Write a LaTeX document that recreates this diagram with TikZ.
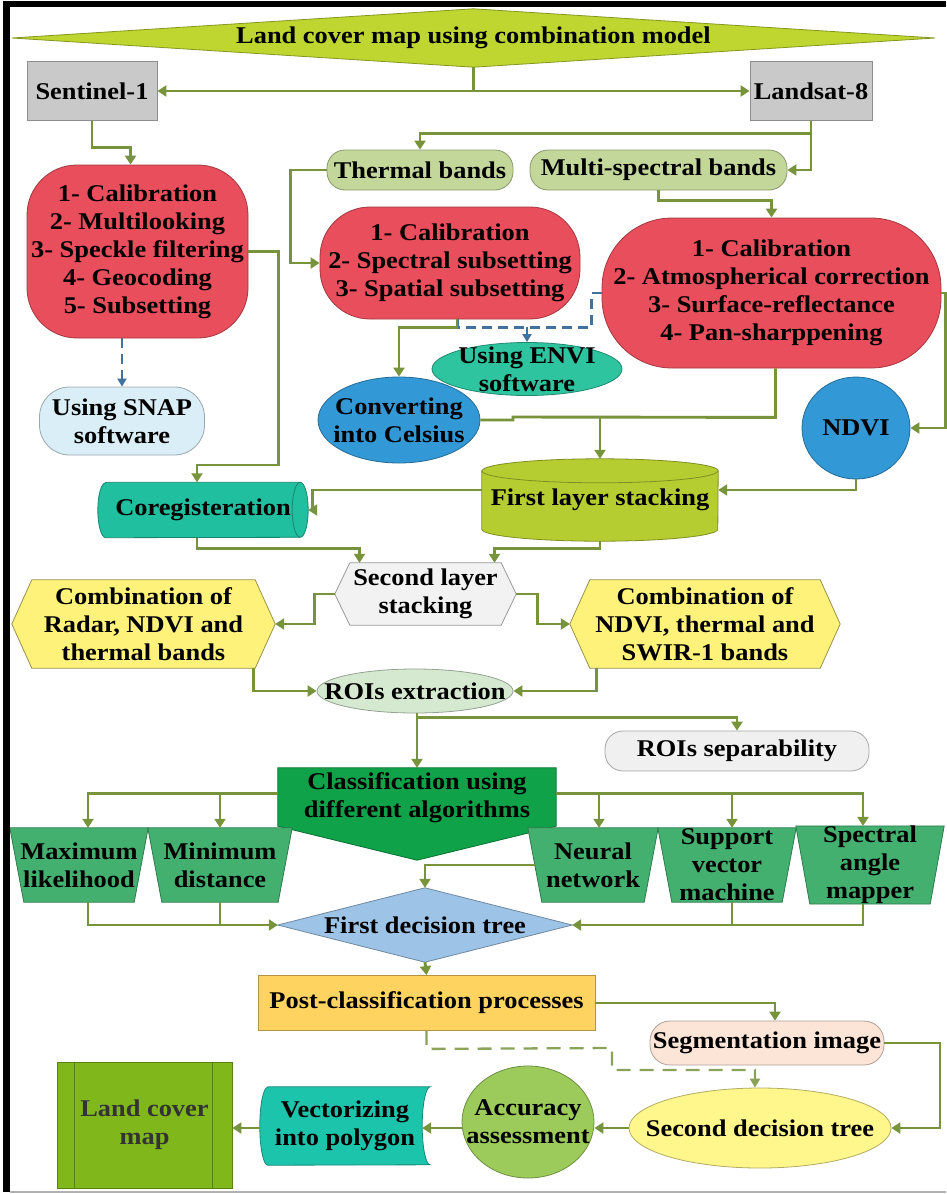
\documentclass[tikz,border=0pt]{standalone}
\usepackage{fontspec}
\setmainfont{Liberation Serif}[FakeStretch=1.1]
\usetikzlibrary{arrows.meta,calc,shapes.geometric}
\pgfdeclarelayer{bg}
\pgfsetlayers{bg,main}
\definecolor{arrg}{HTML}{77933C}
\definecolor{dblue}{HTML}{41719C}
\definecolor{gray1}{HTML}{C9C9C9}
\definecolor{red1}{HTML}{E94E5C}
\definecolor{olivel}{HTML}{C4D79B}
\definecolor{snapc}{HTML}{DAEEF8}
\definecolor{teal1}{HTML}{2EC4A0}
\definecolor{blue1}{HTML}{3399D6}
\definecolor{lime1}{HTML}{BED62F}
\definecolor{lime2}{HTML}{B5CD30}
\definecolor{teal2}{HTML}{1FBF9F}
\definecolor{grayl}{HTML}{F2F2F2}
\definecolor{yellow1}{HTML}{FFF27A}
\definecolor{roisc}{HTML}{D5E8D0}
\definecolor{sepc}{HTML}{F0F0F0}
\definecolor{green1}{HTML}{10A249}
\definecolor{green2}{HTML}{43B070}
\definecolor{fdtc}{HTML}{9DC3E6}
\definecolor{postc}{HTML}{FFD35F}
\definecolor{segc}{HTML}{FCE4D6}
\definecolor{sdtc}{HTML}{FFF68C}
\definecolor{accc}{HTML}{9CCB5C}
\definecolor{teal3}{HTML}{1DC4AC}
\definecolor{landc}{HTML}{80B71A}
\begin{document}
\begin{tikzpicture}[x=1pt,y=-1pt,
  txt/.style={font=\fontsize{24}{28}\selectfont\bfseries, align=center, inner sep=0pt, text=black},
  box/.style={txt, draw=#1!70!black, fill=#1, line width=0.8pt},
  ell/.style={box=#1, ellipse, inner sep=-40pt},
  lbl/.style={txt},
  shp/.style={fill=#1, draw=#1!70!black, line width=0.8pt},
  arr/.style={draw=arrg, line width=2.9pt, -{Triangle[length=9pt,width=11pt]}},
  ln/.style={draw=arrg, line width=2.9pt},
  dashln/.style={draw=dblue, line width=2.3pt, dash pattern=on 10pt off 6pt},
  dasharr/.style={dashln, -{Triangle[length=8pt,width=9pt]}},
  dashg/.style={draw=arrg!85!white, line width=2.3pt, dash pattern=on 14pt off 9pt, -{Triangle[length=9pt,width=10pt]}}
]
\useasboundingbox (0,0) rectangle (946,1194);
% frame
\draw[line width=7pt] (6.5,1) -- (6.5,1192);
\draw[line width=6pt] (3,4) -- (946,4);
\draw[gray!60, line width=2pt] (10,1192) -- (946,1192);

% nodes
\node[lbl, minimum width=923pt, minimum height=58pt] (top) at (473.5,38) {Land cover map using combination model};
\node[box=gray1, minimum width=130pt, minimum height=59pt] (sen) at (92,91) {Sentinel-1};
\node[box=gray1, minimum width=122pt, minimum height=59pt] (lan) at (811,91) {Landsat-8};
\node[box=red1, rounded corners=50pt, minimum width=221pt, minimum height=173pt] (r1) at (137.5,251.5) {1- Calibration\\2- Multilooking\\3- Speckle filtering\\4- Geocoding\\5- Subsetting};
\node[box=snapc, rounded corners=30pt, minimum width=165pt, minimum height=68pt] (snap) at (122,421) {Using SNAP\\software};
\node[box=olivel, rounded corners=18pt, minimum width=186pt, minimum height=40pt] (therm) at (420,170) {Thermal bands};
\node[box=olivel, rounded corners=18pt, minimum width=257pt, minimum height=40pt] (multi) at (658.5,170) {Multi-spectral bands};
\node[box=red1, rounded corners=50pt, minimum width=260pt, minimum height=112pt] (r2) at (450,263) {1- Calibration\\2- Spectral subsetting\\3- Spatial subsetting};
\node[box=red1, rounded corners=70pt, minimum width=339pt, minimum height=150pt] (r3) at (771.5,293) {1- Calibration\\2- Atmospherical correction\\3- Surface-reflectance\\4- Pan-sharppening};
\node[ell=teal1, minimum width=190pt, minimum height=53pt] (envi) at (527,369) {Using ENVI\\software};
\node[ell=blue1, minimum width=162pt, minimum height=86pt] (cel) at (399,420) {Converting\\into Celsius};
\node[ell=blue1, minimum width=108pt, minimum height=102pt] (ndvi) at (856,428) {NDVI};
\node[lbl, minimum width=236pt, minimum height=82pt] (stack) at (600,500) {First layer stacking};
\node[lbl, minimum width=210pt, minimum height=55pt] (coreg) at (203,510) {Coregisteration};
\node[lbl, minimum width=181pt, minimum height=62pt] (sec) at (425.5,594) {Second layer\\stacking};
\node[lbl, minimum width=263pt, minimum height=88pt] (hL) at (143.5,624) {Combination of\\Radar, NDVI and\\thermal bands};
\node[lbl, minimum width=270pt, minimum height=88pt] (hR) at (705,624) {Combination of\\NDVI, thermal and\\SWIR-1 bands};
\node[ell=roisc, minimum width=196pt, minimum height=44pt] (rois) at (415,691) {ROIs extraction};
\node[box=sepc, draw=gray!70, rounded corners=18pt, minimum width=264pt, minimum height=40pt] (sep) at (737,751) {ROIs separability};
\node[lbl, minimum width=278pt, minimum height=56pt] (cls) at (417,798) {Classification using\\different algorithms};
\node[lbl, minimum width=138pt, minimum height=74pt] (mx) at (79,865) {Maximum\\likelihood};
\node[lbl, minimum width=144pt, minimum height=74pt] (mn) at (220,865) {Minimum\\distance};
\node[lbl, minimum width=130pt, minimum height=74pt] (nn) at (593,865) {Neural\\network};
\node[lbl, minimum width=138pt, minimum height=74pt] (sv) at (727,865) {Support\\vector\\machine};
\node[lbl, minimum width=148pt, minimum height=74pt] (sp) at (870,865) {Spectral\\angle\\mapper};
\node[lbl, minimum width=294pt, minimum height=74pt] (fdt) at (425,925) {First decision tree};
\node[box=postc, minimum width=337pt, minimum height=55pt] (post) at (426.5,1003) {Post-classification processes};
\node[box=segc, rounded corners=20pt, minimum width=234pt, minimum height=44pt] (seg) at (767,1043) {Segmentation image};
\node[ell=sdtc, minimum width=262pt, minimum height=80pt] (sdt) at (760,1128) {Second decision tree};
\node[ell=accc, minimum width=132pt, minimum height=112pt] (acc) at (528,1122) {Accuracy\\assessment};
\node[lbl, minimum width=170pt, minimum height=78pt] (vec) at (345,1126) {Vectorizing\\into polygon};
\node[box=landc, text=black!80, minimum width=175pt, minimum height=126pt] (land) at (144.5,1125) {Land cover\\map};
\draw[landc!70!black, line width=0.8pt] ([xshift=18pt]land.north west) -- ([xshift=18pt]land.south west);
\draw[landc!70!black, line width=0.8pt] ([xshift=-20pt]land.north east) -- ([xshift=-20pt]land.south east);

% custom shapes behind the texts
\begin{pgfonlayer}{bg}
\path[shp=lime1] (top.west) -- (top.north) -- (top.east) -- (top.south) -- cycle;
\path[shp=lime2] ([yshift=-12pt]stack.north west) -- ([yshift=12pt]stack.south west)
  arc[start angle=180,end angle=360,x radius=118pt,y radius=12pt]
  -- ([yshift=-12pt]stack.north east)
  arc[start angle=0,end angle=180,x radius=118pt,y radius=12pt] -- cycle;
\draw[lime2!70!black, line width=0.8pt] ([yshift=-12pt]stack.north west) arc[start angle=180,end angle=360,x radius=118pt,y radius=12pt];
\path[shp=teal2] ([xshift=8pt]coreg.north west) -- ([xshift=-8pt]coreg.north east)
  arc[start angle=90,end angle=-90,x radius=8pt,y radius=27.5pt]
  -- ([xshift=8pt]coreg.south west)
  arc[start angle=270,end angle=90,x radius=8pt,y radius=27.5pt] -- cycle;
\draw[teal2!70!black, line width=0.8pt] ([xshift=-8pt]coreg.north east) arc[start angle=90,end angle=270,x radius=8pt,y radius=27.5pt];
\path[shp=grayl, draw=gray!80] ([xshift=15pt]sec.north west) -- ([xshift=-15pt]sec.north east) -- (sec.east) -- ([xshift=-15pt]sec.south east) -- ([xshift=15pt]sec.south west) -- (sec.west) -- cycle;
\foreach \n in {hL,hR}
  \path[shp=yellow1, draw=yellow1!60!black] ([xshift=20pt]\n.north west) -- ([xshift=-20pt]\n.north east) -- (\n.east) -- ([xshift=-20pt]\n.south east) -- ([xshift=20pt]\n.south west) -- (\n.west) -- cycle;
\path[shp=green1] ([yshift=2pt]cls.north west) -- ([yshift=2pt]cls.north east) -- (cls.south east) -- ($(cls.south)+(0,34)$) -- (cls.south west) -- cycle;
\foreach \n in {mx,mn,nn,sv,sp}
  \path[shp=green2] (\n.north west) -- (\n.north east) -- ([xshift=-14pt]\n.south east) -- ([xshift=14pt]\n.south west) -- cycle;
\path[shp=fdtc] (fdt.west) -- (fdt.north) -- (fdt.east) -- (fdt.south) -- cycle;
\path[shp=teal3] ([xshift=8pt]vec.north west) -- (vec.north east)
  arc[start angle=90,end angle=270,x radius=8pt,y radius=39pt]
  -- ([xshift=8pt]vec.south west)
  arc[start angle=270,end angle=90,x radius=8pt,y radius=39pt] -- cycle;
\end{pgfonlayer}

% connectors
\draw[arr] (top.south) |- (sen.east);
\draw[arr] (top.south) |- (lan.west);
\draw[arr] (sen.south) -- ++(0,27) -| ([xshift=-7pt]r1.north);
\draw[dasharr] (snap.north |- r1.south) -- (snap.north);
\draw[arr] (r1.east) -- ++(30,0) -- ++(0,213.5) -| ([xshift=-6pt]coreg.north);
\draw[arr] (lan.south) |- (multi.east);
\draw[arr] (lan.south) -- ++(0,13) -| (therm.north);
\draw[arr] (therm.west) -- ++(-36,0) |- (r2.west);
\draw[arr] (multi.south) -- ++(0,10) -| (r3.north);
\draw[dashln] ([xshift=8pt]r2.south) -- ++(0,8) -| ([xshift=-10pt]r3.west) -- (r3.west);
\draw[dasharr] ($(r2.south -| envi.north)+(0,8)$) -- (envi.north);
\draw[arr] ([xshift=7pt]r2.south) -- ++(0,8) -| (cel.north);
\draw[ln] ([xshift=4pt]r3.south) -- ++(0,49) -- (513,417) |- (cel.east);
\draw[arr] ($(stack.north)+(0,-42)$) -- (stack.north);
\draw[arr] (r3.east) -- ++(4,0) |- (ndvi.east);
\draw[arr] (ndvi.south) |- ([yshift=10pt]stack.east);
\draw[arr] ([yshift=10pt]stack.west) -- ++(-169,0) |- (coreg.east);
\draw[arr] ([xshift=-6pt]coreg.south) -- ++(0,11) -| ([xshift=-66pt]sec.north);
\draw[arr] (stack.south) -- ++(0,7) -| ([xshift=69pt]sec.north);
\draw[arr] (sec.west) -- ++(-20,0) |- (hL.east);
\draw[arr] (sec.east) -- ++(21,0) |- (hR.west);
\draw[arr] ([xshift=-22pt]hL.south east) |- (rois.west);
\draw[arr] ([xshift=27pt]hR.south west) |- (rois.east);
\draw[arr] (rois.south -| cls.north) -- ([yshift=2pt]cls.north);
\draw[arr] ($(rois.south -| cls.north)+(0,4)$) -| (sep.north);
\coordinate (cL) at ($(cls.north west)+(0,24)$);
\coordinate (cR) at ($(cls.north east)+(0,24)$);
\draw[arr] (cL) -| ([xshift=9pt]mx.north);
\draw[arr] (cL -| mn.north) -- (mn.north);
\draw[arr] (cR) -| ([xshift=-7pt]sp.north);
\draw[arr] ($(cR -| nn.north)+(6,0)$) -- ([xshift=6pt]nn.north);
\draw[arr] ($(cR -| sv.north)+(5,0)$) -- ([xshift=5pt]sv.north);
\draw[arr] ([xshift=9pt]mx.south) |- (fdt.west);
\draw[ln] (mn.south) -- (mn.south |- fdt.west);
\draw[arr] ([xshift=-7pt]sp.south) |- (fdt.east);
\draw[ln] ([xshift=5pt]sv.south) -- ($(sv.south |- fdt.east)+(5,0)$);
\draw[arr] ([xshift=7pt]nn.west) -| (fdt.north);
\draw[arr] (fdt.south) -- (post.north);
\draw[arr] (post.east) -| ([xshift=8pt]seg.north);
\draw[dashg] (post.south) -- ++(0,18) -- (612,1048) -- (612,1070) -| ([xshift=-5pt]sdt.north);
\draw[arr] (seg.east) -- (940,1043) |- (sdt.east);
\draw[arr] (sdt.west) -- (sdt.west -| acc.east);
\draw[arr] (sdt.west -| acc.west) -- ($(sdt.west -| vec.east)+(-8,0)$);
\draw[arr] (sdt.west -| vec.west) -- (sdt.west -| land.east);
\end{tikzpicture}
\end{document}
